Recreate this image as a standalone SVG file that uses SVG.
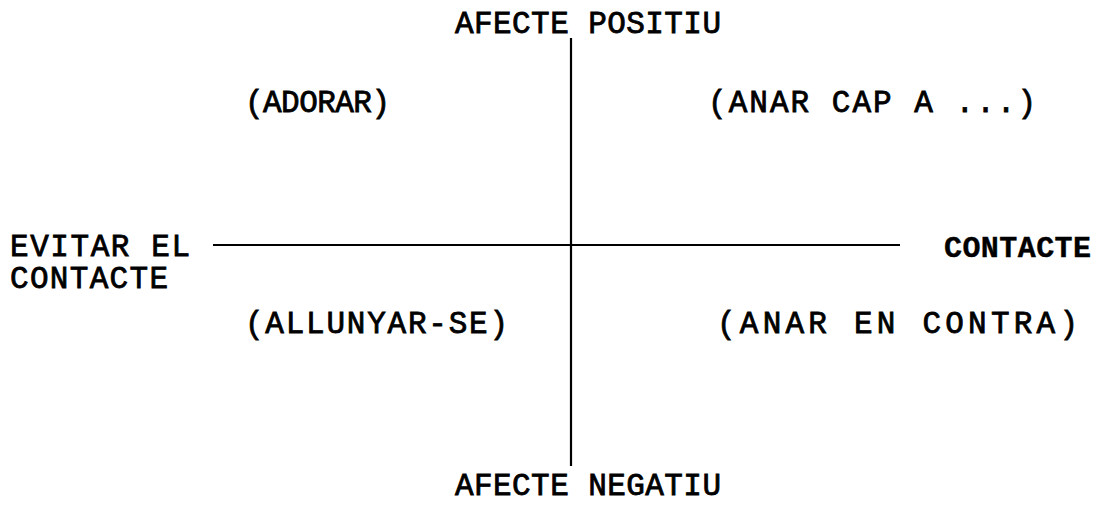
<svg xmlns="http://www.w3.org/2000/svg" width="1096" height="507" viewBox="0 0 1096 507">
  <style>
    .lbl { font-family: "Courier New", "Liberation Mono", monospace; font-weight: normal; font-size: 31px; fill: #000; stroke: #000; stroke-width: 0.8; }
    .heavy { font-weight: bold; font-size: 30px; stroke-width: 0.4; }
    .axis { stroke: #000; stroke-width: 2.2; fill: none; }
  </style>
  <rect width="1096" height="507" fill="#fff"/>

  <!-- axes -->
  <g id="connectors">
    <line class="axis" x1="571" y1="38" x2="571" y2="466"/>
    <line class="axis" x1="213" y1="245" x2="900" y2="245"/>
  </g>

  <!-- axis end labels -->
  <g id="top-label"><text class="lbl" x="455" y="33" textLength="266" lengthAdjust="spacing">AFECTE POSITIU</text></g>
  <g id="bottom-label"><text class="lbl" x="455" y="495" textLength="266" lengthAdjust="spacing">AFECTE NEGATIU</text></g>
  <g id="left-label">
    <text class="lbl" x="10" y="256" textLength="180" lengthAdjust="spacing">EVITAR EL</text>
    <text class="lbl" x="10" y="288" textLength="158" lengthAdjust="spacing">CONTACTE</text>
  </g>
  <g id="right-label"><text class="lbl heavy" x="944" y="257" textLength="147" lengthAdjust="spacing">CONTACTE</text></g>

  <!-- quadrant labels -->
  <g id="q-top-left"><text class="lbl" x="245" y="112" textLength="145" lengthAdjust="spacing">(ADORAR)</text></g>
  <g id="q-top-right"><text class="lbl" x="708" y="112" textLength="328" lengthAdjust="spacing">(ANAR CAP A ...)</text></g>
  <g id="q-bottom-left"><text class="lbl" x="245" y="333" textLength="263" lengthAdjust="spacing">(ALLUNYAR-SE)</text></g>
  <g id="q-bottom-right"><text class="lbl" x="717" y="333" textLength="361" lengthAdjust="spacing">(ANAR EN CONTRA)</text></g>
</svg>
